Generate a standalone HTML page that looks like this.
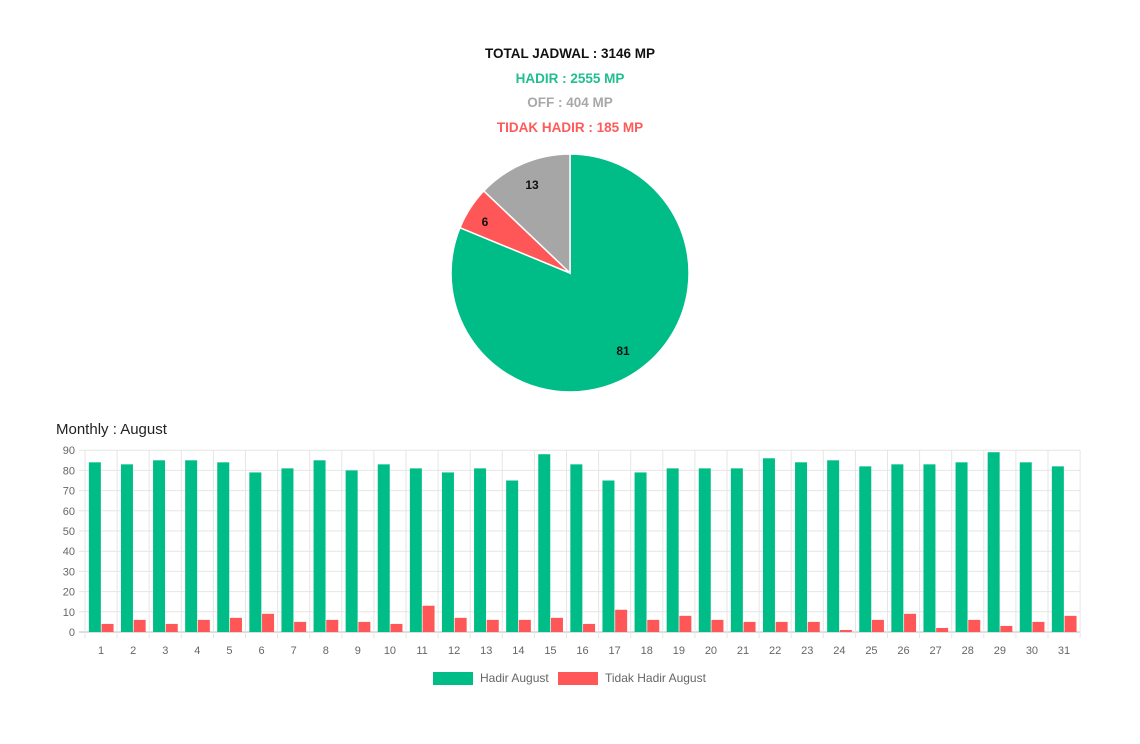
<!DOCTYPE html>
<html><head><meta charset="utf-8"><style>
body{margin:0;background:#fff;width:1140px;height:739px;overflow:hidden;font-family:"Liberation Sans",sans-serif}
</style></head><body>
<svg id="s" width="1140" height="739" xmlns="http://www.w3.org/2000/svg" font-family="Liberation Sans, sans-serif">
<g font-weight="bold" font-size="13.5" text-anchor="middle">
<text x="570" y="58" fill="#111">TOTAL JADWAL : 3146 MP</text>
<text x="570" y="83" fill="#1fbf8f">HADIR : 2555 MP</text>
<text x="570" y="107" fill="#a8a8a8">OFF : 404 MP</text>
<text x="570" y="132" fill="#ff5a5a">TIDAK HADIR : 185 MP</text>
</g>
<g stroke="#fff" stroke-width="1.5">
<path d="M570,273 L570,154 A119,119 0 1,1 460,227.7 Z" fill="#00bd87"/>
<path d="M570,273 L460,227.7 A119,119 0 0,1 483.8,190.9 Z" fill="#ff5757"/>
<path d="M570,273 L483.8,190.9 A119,119 0 0,1 570,154 Z" fill="#a6a6a6"/>
</g>
<g font-size="12" font-weight="bold" text-anchor="middle" fill="#111">
<text x="623" y="355">81</text><text x="485" y="226">6</text><text x="532" y="189">13</text>
</g>
<text x="56" y="434" font-size="15" fill="#222">Monthly : August</text>
<g id="chart"></g>
<rect x="433" y="672" width="40" height="13" fill="#00bd87"/>
<text x="480" y="682" font-size="12" fill="#666">Hadir August</text>
<rect x="558" y="672" width="40" height="13" fill="#ff5757"/>
<text x="605" y="682" font-size="12" fill="#666">Tidak Hadir August</text>
</svg>
<script>
var g=[84,83,85,85,84,79,81,85,80,83,81,79,81,75,88,83,75,79,81,81,81,86,84,85,82,83,83,84,89,84,82];
var r=[4,6,4,6,7,9,5,6,5,4,13,7,6,6,7,4,11,6,8,6,5,5,5,1,6,9,2,6,3,5,8];
var x0=85,w=32.1,y0=632,k=2.02,h='';
for(var i=0;i<=9;i++){var y=y0-i*10*k;h+='<line x1="79" x2="1080" y1="'+y+'" y2="'+y+'" stroke="'+(i==0?'#bbb':'#e6e6e6')+'"/>';
h+='<text x="75" y="'+(y+4)+'" font-size="11" fill="#666" text-anchor="end">'+(i*10)+'</text>';}
for(var j=0;j<=31;j++){var x=x0+j*w;h+='<line x1="'+x+'" x2="'+x+'" y1="450" y2="638" stroke="#e6e6e6"/>';}
for(var j=0;j<31;j++){var c=x0+j*w+w/2;
h+='<rect x="'+(c-12.2)+'" y="'+(y0-g[j]*k)+'" width="12" height="'+(g[j]*k)+'" fill="#00bd87"/>';
h+='<rect x="'+(c+0.5)+'" y="'+(y0-r[j]*k)+'" width="12" height="'+(r[j]*k)+'" fill="#ff5757"/>';
h+='<text x="'+c+'" y="654" font-size="11" fill="#666" text-anchor="middle">'+(j+1)+'</text>';}
document.getElementById('chart').innerHTML=h;
</script>
</body></html>
